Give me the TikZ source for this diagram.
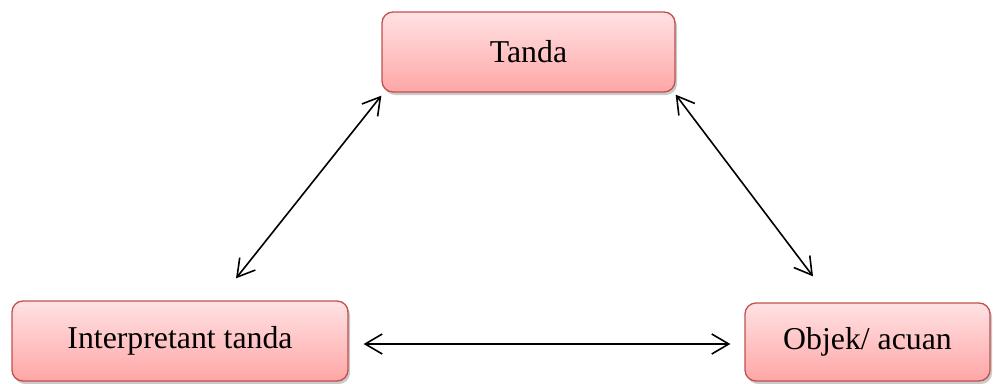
\documentclass[tikz,border=0pt]{standalone}
\usepackage{fontspec}
\setmainfont{Liberation Serif}
\usetikzlibrary{arrows.meta,shadows}
\definecolor{boxborder}{HTML}{C0504D}
\definecolor{boxtop}{HTML}{FFE2E4}
\definecolor{boxbot}{HTML}{FFA6A6}
\tikzset{
  pinkbox/.style={draw=boxborder, line width=1.3pt, rounded corners=11pt,
    top color=boxtop, bottom color=boxbot,
    drop shadow={shadow xshift=2pt, shadow yshift=-3pt, opacity=0.35, fill=black!60},
    inner sep=0pt, align=center,
    font=\fontsize{31.8}{38}\selectfont},
  dbl/.style={line width=1.6pt, {Straight Barb[length=17pt,width=20pt,line width=1.6pt]}-{Straight Barb[length=17pt,width=20pt,line width=1.6pt]}}
}
\begin{document}
\begin{tikzpicture}[x=1pt,y=-1pt]
\useasboundingbox (0,0) rectangle (993,383);
\node[pinkbox, minimum width=293pt, minimum height=80pt] (tanda) at (528.5,52) {Tanda};
\node[pinkbox, minimum width=336pt, minimum height=80pt] (interp) at (180,341) {Interpretant tanda};
\node[pinkbox, minimum width=245pt, minimum height=78pt] (objek) at (867.5,342) {Objek/ acuan};
\draw[dbl] ([yshift=-3pt]tanda.south west) -- ([xshift=56pt,yshift=22pt]interp.north);
\draw[dbl] ([yshift=-2pt]tanda.south east) -- ([xshift=-54.5pt,yshift=26pt]objek.north);
\draw[dbl] ([xshift=15pt,yshift=-3pt]interp.east) -- ([xshift=-14pt,yshift=-2pt]objek.west);
\end{tikzpicture}
\end{document}
